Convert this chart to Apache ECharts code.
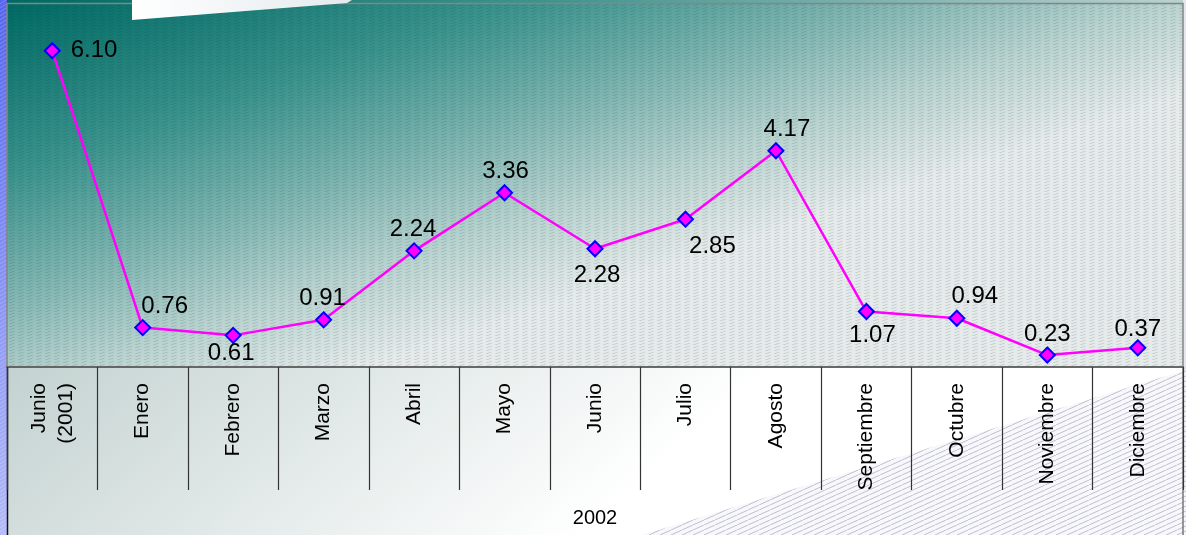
<!DOCTYPE html>
<html>
<head>
<meta charset="utf-8">
<script src="https://cdn.jsdelivr.net/npm/echarts@6/dist/echarts.min.js"></script>
<style>
  html, body { margin: 0; padding: 0; background: #ffffff; }
  #chart { width: 1186px; height: 535px; }
</style>
</head>
<body>
<div id="chart"></div>
<script>
// Monthly values, June 2001 and January–December 2002
const categories = ['Junio\n(2001)', 'Enero', 'Febrero', 'Marzo', 'Abril', 'Mayo', 'Junio',
  'Julio', 'Agosto', 'Septiembre', 'Octubre', 'Noviembre', 'Diciembre'];
const values = [6.10, 0.76, 0.61, 0.91, 2.24, 3.36, 2.28, 2.85, 4.17, 1.07, 0.94, 0.23, 0.37];
const yearLabel = '2002';
const yMin = 0;
const yMax = 7;

// Where each value label sits around its marker: [position, distance, dx]
const labelPlacement = [
  ['right', 10, 0], ['top', 1, 22], ['bottom', -2, -2], ['top', 1, -1],
  ['top', 1, -1], ['top', 1, 1], ['bottom', 6, 2], ['bottom', 7, 27],
  ['top', 1, 11], ['bottom', 3, 6], ['top', 1, 18], ['top', 0, 0], ['top', -2, 0]
];

const W = 1186, H = 535;
const G = { left: 7, top: 4, right: 3, bottom: 168 };
const plotW = W - G.left - G.right;
const plotH = H - G.top - G.bottom;
const axisY = G.top + plotH;

function tile(w, h, bg, stroke, lw, dash, draw) {
  const c = document.createElement('canvas');
  c.width = w; c.height = h;
  const ctx = c.getContext('2d');
  if (bg) { ctx.fillStyle = bg; ctx.fillRect(0, 0, w, h); }
  ctx.strokeStyle = stroke;
  ctx.lineWidth = lw;
  if (dash) ctx.setLineDash(dash);
  draw(ctx, w, h);
  return c;
}

// fine slanted dashes over the plot background
const plotHatch = tile(9, 3, null, 'rgba(0,60,60,0.15)', 1, [6, 3.5], (ctx, w, h) => {
  ctx.beginPath(); ctx.moveTo(0, h); ctx.lineTo(w, 0); ctx.stroke();
});
// diagonal ruling for the lower-right band
const bandHatch = tile(11, 5, '#f7f7fc', 'rgba(120,120,150,0.55)', 0.8, null, (ctx, w, h) => {
  ctx.beginPath();
  ctx.moveTo(0, h); ctx.lineTo(w, 0);
  ctx.moveTo(-w, h); ctx.lineTo(0, 0);
  ctx.moveTo(w, h); ctx.lineTo(2 * w, 0);
  ctx.stroke();
});
// ruling on the blue strip at the left edge
const stripHatch = tile(6, 4, null, 'rgba(255,255,255,0.28)', 0.8, null, (ctx, w, h) => {
  ctx.beginPath();
  ctx.moveTo(0, h); ctx.lineTo(w, 0);
  ctx.moveTo(-w, h); ctx.lineTo(0, 0);
  ctx.moveTo(w, h); ctx.lineTo(2 * w, 0);
  ctx.stroke();
});

const LG = echarts.graphic.LinearGradient;
const plotGradient = new LG(G.left, G.top, G.left + 145, G.top + 435, [
  { offset: 0, color: '#006a64' },
  { offset: 0.35, color: '#3a928c' },
  { offset: 0.6, color: '#7fb4b0' },
  { offset: 0.8, color: '#b8d2cf' },
  { offset: 1, color: '#e6eaea' }
], true);
const tableGradient = new LG(G.left, axisY, G.left + 330, axisY + 380, [
  { offset: 0, color: '#c3d2d0' },
  { offset: 1, color: '#ffffff' }
], true);
const stripGradient = new LG(0, 0, 0, H, [
  { offset: 0, color: '#5666ee' },
  { offset: 1, color: '#b4bbf8' }
], true);
const tabGradient = new LG(132, 0, 352, 20, [
  { offset: 0, color: '#ffffff' },
  { offset: 1, color: '#e4eaee' }
], true);

const font = '"Liberation Sans", Arial, sans-serif';

const seriesData = values.map((v, i) => {
  const p = labelPlacement[i];
  return {
    value: v,
    label: { position: p[0], distance: p[1], offset: [p[2], 0] }
  };
});

const chart = echarts.init(document.getElementById('chart'), null, { renderer: 'canvas' });
chart.setOption({
  animation: false,
  backgroundColor: '#ffffff',
  grid: {
    left: G.left, top: G.top, right: G.right, bottom: G.bottom,
    containLabel: false, outerBoundsMode: 'none'
  },
  graphic: [
    { type: 'rect', z: 0, shape: { x: 0, y: 0, width: W, height: H }, style: { fill: plotGradient } },
    { type: 'rect', z: 0, shape: { x: W - G.right, y: 0, width: G.right, height: H }, style: { fill: '#e6e6f2' } },
    { type: 'rect', z: 1, shape: { x: 0, y: 0, width: G.left, height: H }, style: { fill: stripGradient } },
    { type: 'rect', z: 1, shape: { x: 0, y: 0, width: G.left, height: H }, style: { fill: { image: stripHatch, repeat: 'repeat' } } },
    { type: 'rect', z: 1, shape: { x: G.left, y: G.top, width: plotW, height: plotH }, style: { fill: plotGradient } },
    { type: 'rect', z: 2, shape: { x: G.left, y: G.top, width: plotW, height: plotH }, style: { fill: { image: plotHatch, repeat: 'repeat' } } },
    { type: 'rect', z: 1, shape: { x: G.left, y: axisY, width: plotW, height: H - axisY }, style: { fill: tableGradient } },
    { type: 'polygon', z: 3, shape: { points: [[642, H], [W, 370], [W, H]] }, style: { fill: { image: bandHatch, repeat: 'repeat' } } },
    { type: 'rect', z: 4, shape: { x: G.left, y: G.top - 0.5, width: plotW, height: plotH + 0.5 }, style: { fill: null, stroke: '#858585', lineWidth: 1.5 } },
    { type: 'line', z: 4, shape: { x1: G.left + 0.5, y1: axisY, x2: G.left + 0.5, y2: H }, style: { stroke: '#111', lineWidth: 1.5 } },
    { type: 'line', z: 4, shape: { x1: W - G.right, y1: axisY, x2: W - G.right, y2: H }, style: { stroke: '#777', lineWidth: 1.5 } },
    { type: 'polygon', z: 5, shape: { points: [[132, 0], [352, 0], [347, 3], [132, 20]] }, style: { fill: tabGradient } }
  ],
  xAxis: {
    type: 'category',
    data: categories,
    boundaryGap: true,
    z: 10,
    axisLine: { show: true, lineStyle: { color: '#555', width: 1.5 } },
    axisTick: { show: true, interval: 0, length: 123, lineStyle: { color: '#333', width: 1.2 } },
    axisLabel: {
      interval: 0, rotate: 90, margin: 16,
      fontSize: 21, lineHeight: 27, color: '#000', fontFamily: font
    },
    splitLine: { show: false },
    name: yearLabel,
    nameLocation: 'middle',
    nameGap: 141,
    nameTextStyle: { fontSize: 20, color: '#000', fontFamily: font }
  },
  yAxis: {
    type: 'value',
    min: yMin, max: yMax,
    show: false,
    splitLine: { show: false }
  },
  series: [{
    type: 'line',
    z: 20,
    data: seriesData,
    symbol: 'diamond',
    symbolSize: 15,
    lineStyle: { color: '#ff00ff', width: 2.5 },
    itemStyle: { color: '#ff00ff', borderColor: '#0000ff', borderWidth: 2 },
    label: {
      show: true, fontSize: 24, color: '#000', fontFamily: font,
      formatter: p => p.value.toFixed(2)
    }
  }]
});
</script>
</body>
</html>
